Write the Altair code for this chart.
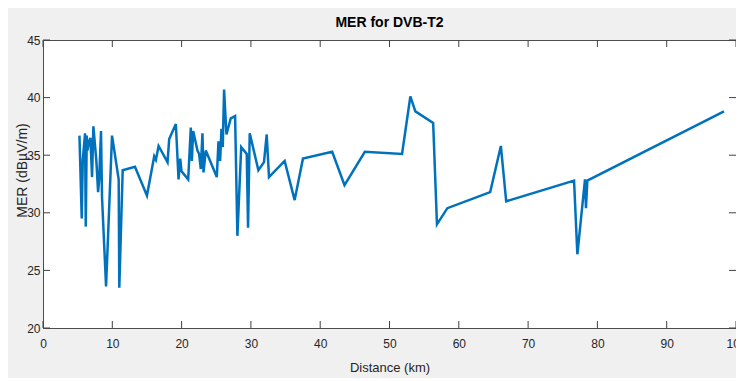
import altair as alt
import pandas as pd

# Distance (km) and MER values
distance = [5.26, 5.59, 5.74, 6.07, 6.17, 6.31, 6.41, 6.60, 6.84, 7.08, 7.27, 7.7, 7.95,
            8.1, 8.37, 8.52, 9.10, 9.96, 10.92, 11.01, 11.5, 13.27, 15.0, 16.05, 16.29,
            16.68, 17.97, 18.21, 19.17, 19.56, 19.8, 19.99, 20.95, 21.33, 21.48, 21.67,
            22.29, 22.53, 22.77, 23.01, 23.16, 23.49, 25.08, 25.32, 25.56, 25.75, 25.94,
            26.13, 26.47, 27.09, 27.72, 28.05, 28.6, 29.4, 29.59, 29.83, 31.08, 31.89,
            32.28, 32.61, 34.87, 36.31, 37.51, 41.73, 43.51, 46.44, 51.81, 53.01, 53.73,
            56.3, 56.85, 58.35, 64.53, 66.07, 66.84, 76.63, 77.11, 78.21, 78.35, 78.55,
            98.27]
mer = [36.7, 29.5, 34.6, 36.9, 28.8, 36.7, 35.4, 36.1, 36.5, 33.1, 37.5, 34.5, 31.8,
       32.8, 37.1, 31.3, 23.6, 36.7, 32.9, 23.5, 33.7, 34.0, 31.5, 34.9, 34.6,
       35.8, 34.4, 36.4, 37.7, 32.9, 34.7, 33.6, 32.9, 37.4, 34.5, 37.1,
       35.4, 35.1, 33.8, 36.9, 33.5, 35.4, 33.1, 36.2, 34.5, 37.3, 35.7,
       40.7, 36.8, 38.2, 38.4, 28.0, 35.7, 35.1, 28.7, 36.9, 33.7, 34.4,
       36.8, 33.1, 34.5, 31.1, 34.7, 35.3, 32.4, 35.3, 35.1, 40.1, 38.8,
       37.8, 29.0, 30.4, 31.8, 35.8, 31.0, 32.8, 26.4, 32.9, 30.4, 32.8,
       38.8]

x_ticks = [0, 10, 20, 30, 40, 50, 60, 70, 80, 90, 100]
y_ticks = [20, 25, 30, 35, 40, 45]

df = pd.DataFrame({"Distance": distance, "MER": mer, "idx": list(range(len(mer)))})
xt = pd.DataFrame({"Distance": x_ticks})
yt = pd.DataFrame({"MER": y_ticks})

FONT = "Liberation Sans, Arial, sans-serif"
TXT = "#262626"
TICKC = "#404040"
W, H, TICK = 693, 288, 7

xscale = alt.Scale(domain=[0, 100], nice=False, zero=False)
yscale = alt.Scale(domain=[20, 45], nice=False, zero=False)

xaxis = alt.Axis(orient="bottom", values=x_ticks, ticks=False, tickSize=0, domain=False,
                 grid=False, labelFlush=False, labelPadding=10, labelFont=FONT,
                 labelFontSize=12, labelColor=TXT, title="Distance (km)", titleFont=FONT,
                 titleFontSize=13, titleFontWeight="normal", titleColor=TXT,
                 titlePadding=12)
yaxis = alt.Axis(orient="left", values=y_ticks, ticks=False, tickSize=0, domain=False,
                 grid=False, labelPadding=3, labelFont=FONT, labelFontSize=12,
                 labelColor=TXT, title="MER (dBµV/m)", titleFont=FONT, titleFontSize=14,
                 titleFontWeight="normal", titleColor=TXT, titleX=-21, titleY=130,
                 titleBaseline="middle", titleAngle=270)

X = alt.X("Distance:Q", scale=xscale, axis=xaxis)
Y = alt.Y("MER:Q", scale=yscale, axis=yaxis)

line = alt.Chart(df).mark_line(color="#0072BD", strokeWidth=2.5, clip=True).encode(
    x=X, y=Y, order="idx:Q"
)

# inward tick marks on all four sides (MATLAB box style)
tick_bottom = alt.Chart(xt).mark_rule(color=TICKC, strokeWidth=1).encode(
    x=X, y=alt.value(H), y2=alt.value(H - TICK))
tick_top = alt.Chart(xt).mark_rule(color=TICKC, strokeWidth=1).encode(
    x=X, y=alt.value(0), y2=alt.value(TICK))
tick_left = alt.Chart(yt).mark_rule(color=TICKC, strokeWidth=1).encode(
    y=Y, x=alt.value(0), x2=alt.value(TICK))
tick_right = alt.Chart(yt).mark_rule(color=TICKC, strokeWidth=1).encode(
    y=Y, x=alt.value(W), x2=alt.value(W - TICK))

chart = alt.layer(tick_bottom, tick_top, tick_left, tick_right, line).properties(
    width=W,
    height=H,
    autosize=alt.AutoSizeParams(type="none"),
    padding={"left": 35, "top": 32, "right": 0, "bottom": 50},
    background="#f0f0f0",
    title=alt.TitleParams("MER for DVB-T2", font=FONT, fontSize=14, fontWeight="bold",
                          color="#000000", anchor="middle", offset=4),
).configure_view(fill="white", stroke="#4d4d4d", strokeWidth=1)

chart.save("out.html", embed_options={"renderer": "svg", "actions": False})
